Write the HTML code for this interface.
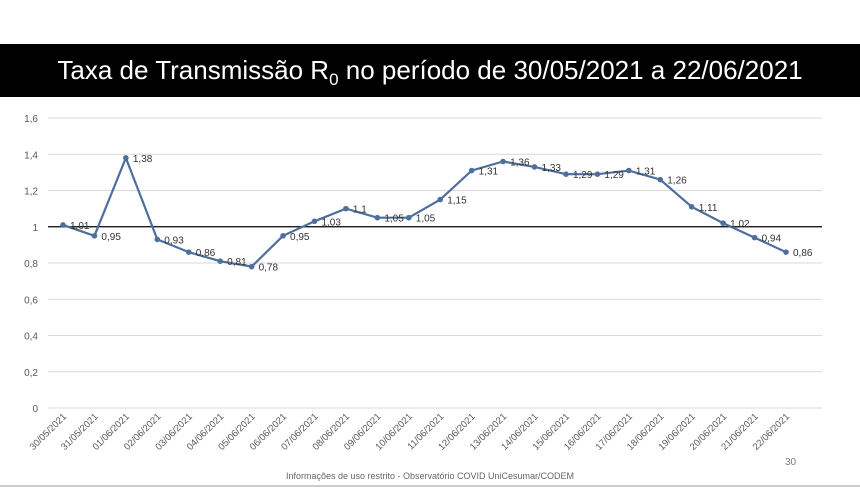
<!DOCTYPE html>
<html><head><meta charset="utf-8"><style>
body{margin:0;background:#fff;width:860px;height:488px;overflow:hidden;font-family:"Liberation Sans",sans-serif;position:relative}
#banner{position:absolute;left:0;top:44px;width:860px;height:53px;background:#000;color:#fff;font-size:26px;line-height:53px;text-align:center}
#foot{position:absolute;left:0;width:860px;top:471px;text-align:center;font-size:9px;color:#666}
#pg{position:absolute;left:785px;top:457px;font-size:10px;color:#777}
#bline{position:absolute;left:0;top:485px;width:860px;height:2px;background:#ccc}
svg{position:absolute;left:0;top:0}
</style></head><body>
<div id="banner">Taxa de Transmissão R<sub style="font-size:17px">0</sub> no período de 30/05/2021 a 22/06/2021</div>
<svg id="chart" width="860" height="488"></svg>
<div id="pg">30</div>
<div id="foot">Informações de uso restrito - Observatório COVID UniCesumar/CODEM</div>
<div id="bline"></div>
<script>
const categories=["30/05/2021","31/05/2021","01/06/2021","02/06/2021","03/06/2021","04/06/2021","05/06/2021","06/06/2021","07/06/2021","08/06/2021","09/06/2021","10/06/2021","11/06/2021","12/06/2021","13/06/2021","14/06/2021","15/06/2021","16/06/2021","17/06/2021","18/06/2021","19/06/2021","20/06/2021","21/06/2021","22/06/2021"];
const values=[1.01,0.95,1.38,0.93,0.86,0.81,0.78,0.95,1.03,1.1,1.05,1.05,1.15,1.31,1.36,1.33,1.29,1.29,1.31,1.26,1.11,1.02,0.94,0.86];
const yTicks=[0,0.2,0.4,0.6,0.8,1,1.2,1.4,1.6];
const NS="http://www.w3.org/2000/svg";
const svg=document.getElementById('chart');
const x=i=>63+i*(723/(categories.length-1));
const y=v=>408-v*181.25;
const fmt=v=>String(v).replace('.',',');
function mk(t,a){const e=document.createElementNS(NS,t);for(const k in a)e.setAttribute(k,a[k]);svg.appendChild(e);return e;}
yTicks.forEach(t=>{
 const l=mk('line',{x1:48,x2:822,y1:y(t),y2:y(t),stroke:t===1?'#000':'#d9d9d9','stroke-width':t===1?1.3:1});
 
 
 const tx=mk('text',{x:38,y:y(t)+4,'text-anchor':'end','font-size':10,fill:'#595959'});
 tx.textContent=fmt(t);
 
 
});
categories.forEach((c,i)=>{
 const tx=mk('text',{x:x(i)+4,y:417,'text-anchor':'end','font-size':9.5,fill:'#595959',transform:`rotate(-45 ${x(i)+4} 417)`});
 tx.textContent=c;
 
 
});
const p=mk('polyline',{points:values.map((v,i)=>x(i)+','+y(v)).join(' '),fill:'none',stroke:'#4e6f9c','stroke-width':2.2});


values.forEach((v,i)=>{
 const c=mk('circle',{cx:x(i),cy:y(v),r:2.8,fill:'#4e6f9c'});
 
 
 const t=mk('text',{x:x(i)+7,y:y(v)+4,'font-size':10,fill:'#333'});
 t.textContent=fmt(v);
 
 
});
</script>
</body></html>
